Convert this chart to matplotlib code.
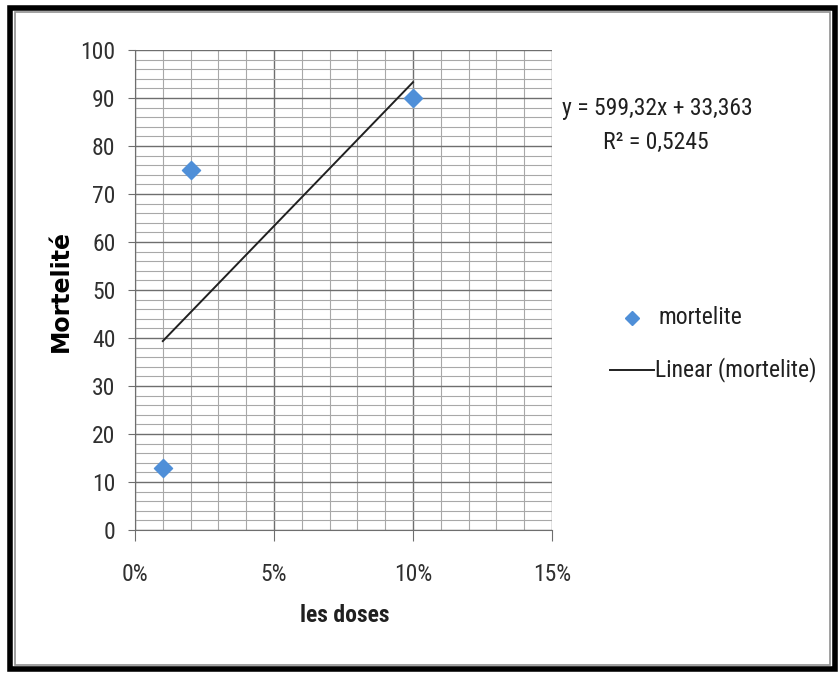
import numpy as np
import matplotlib.pyplot as plt
from matplotlib.patches import Rectangle
from matplotlib.lines import Line2D
from matplotlib.ticker import MultipleLocator, FuncFormatter

# data
doses = [0.01, 0.02, 0.10]
mortelite = [13, 75, 90]
slope = 599.32
intercept = 33.363
r2 = 0.5245

plt.rcParams['font.family'] = ['Roboto Condensed', 'Liberation Sans', 'DejaVu Sans']

W, H = 838, 673
fig = plt.figure(figsize=(W/100, H/100), dpi=100)
ax = fig.add_axes([135/W, 1-530/H, 417/W, 480/H])

ax.scatter(doses, mortelite, marker='D', s=85, color='#4f8fd8', zorder=3)
xt = np.array([min(doses), max(doses)])
ax.plot(xt, slope*xt + intercept, color='#202020', lw=1.4, zorder=2)

ax.set_xlim(0, 0.15)
ax.set_ylim(0, 100)
ax.xaxis.set_major_locator(MultipleLocator(0.05))
ax.xaxis.set_minor_locator(MultipleLocator(0.01))
ax.yaxis.set_major_locator(MultipleLocator(10))
ax.yaxis.set_minor_locator(MultipleLocator(2))
ax.xaxis.set_major_formatter(FuncFormatter(lambda v, p: '%d%%' % round(v*100)))
ax.grid(which='major', color='#6e6e6e', lw=1.0)
ax.grid(which='minor', color='#a8a8a8', lw=0.8)
ax.set_axisbelow(True)
for s in ['top', 'right']:
    ax.spines[s].set_visible(False)
for s in ['left', 'bottom']:
    ax.spines[s].set_color('#6e6e6e')
ax.tick_params(which='major', length=5, color='#6e6e6e', labelsize=17, labelcolor='#303030')
ax.tick_params(axis='x', which='major', length=8, pad=16)
ax.tick_params(axis='y', which='major', pad=9)
ax.tick_params(which='minor', length=0)

fig.text(345/W, 1-616/H, 'les doses', fontsize=17, fontweight='bold', ha='center', va='center', color='#202020')
fig.text(61/W, 1-291/H, 'Mortelité', fontsize=17, fontweight='bold', family=['DejaVu Sans'],
         rotation=90, ha='center', va='center')

fig.text(562/W, 1-108/H, 'y = 599,32x + 33,363', fontsize=17, va='center', ha='left', color='#202020')
fig.text(603/W, 1-142/H, 'R² = 0,5245', fontsize=17, va='center', ha='left', color='#202020')

# legend drawn at right
fig.add_artist(Line2D([632/W], [1-318/H], marker='D', ms=7, color='#4f8fd8', lw=0))
fig.text(658/W, 1-317/H, 'mortelite', fontsize=17, va='center', ha='left', color='#202020')
fig.add_artist(Line2D([610/W, 654/W], [1-370/H, 1-370/H], color='#202020', lw=1.4))
fig.text(655/W, 1-370/H, 'Linear (mortelite)', fontsize=17, va='center', ha='left', color='#202020')

# outer frame
fig.add_artist(Rectangle((10/W, 4/H), 825/W, 661/H, transform=fig.transFigure,
                         fill=False, ec='black', lw=4))
fig.add_artist(Rectangle((15/W, 8/H), 815/W, 653/H, transform=fig.transFigure,
                         fill=False, ec='#909090', lw=1.2))

fig.savefig('out.png', dpi=100)
